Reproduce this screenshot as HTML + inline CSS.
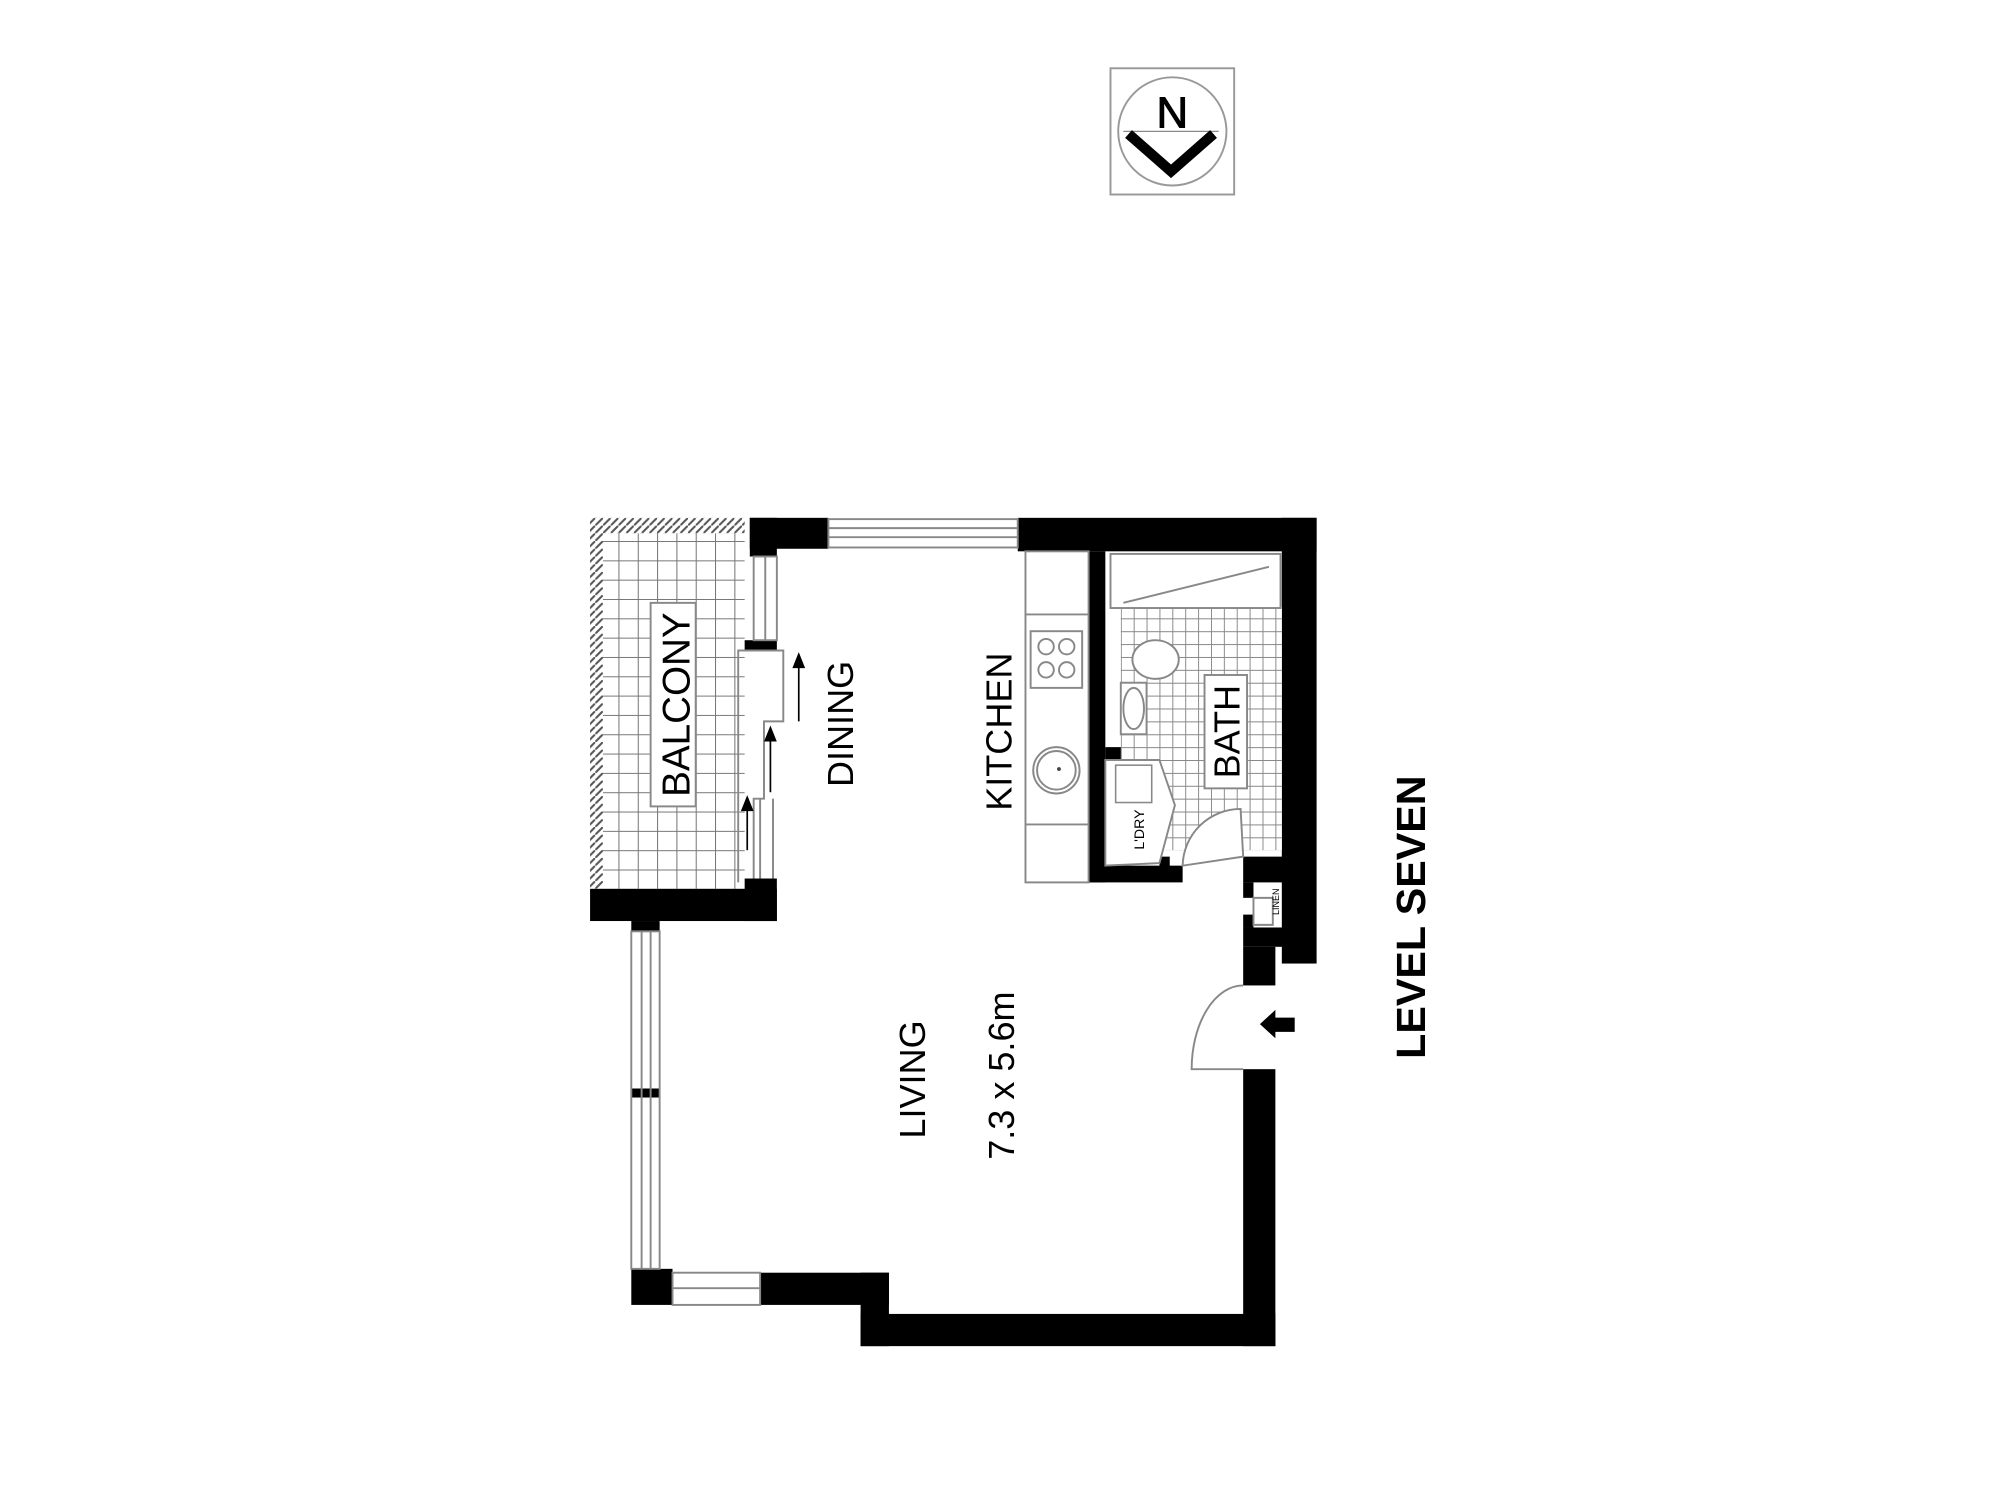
<!DOCTYPE html>
<html><head><meta charset="utf-8"><style>html,body{margin:0;padding:0;background:#fff}svg{display:block}</style></head>
<body>
<svg width="2002" height="1502" viewBox="0 0 1554 1166" xmlns="http://www.w3.org/2000/svg" font-family="Liberation Sans, Arial, sans-serif">
<defs>
<pattern id="tile" x="0" y="0" width="15" height="15" patternUnits="userSpaceOnUse">
<rect width="15" height="15" fill="#fff"/><path d="M0 0H15M0 0V15" stroke="#777" stroke-width="1.6"/></pattern>
<pattern id="tile2" x="0" y="0" width="10" height="10" patternUnits="userSpaceOnUse">
<rect width="10" height="10" fill="#fff"/><path d="M0 0H10M0 0V10" stroke="#888" stroke-width="1.5"/></pattern>
<pattern id="hatch" x="0" y="0" width="6" height="6" patternUnits="userSpaceOnUse">
<rect width="6" height="6" fill="#fff"/><path d="M0 6L6 0" stroke="#555" stroke-width="1.6"/></pattern>
</defs>
<rect width="1554" height="1166" fill="#fff"/>
<!-- North -->
<rect x="862" y="53" width="96" height="98" fill="#fff" stroke="#999" stroke-width="1.5"/>
<circle cx="910" cy="102" r="42" fill="none" stroke="#999" stroke-width="1.5"/>
<text x="910" y="99" font-size="34" text-anchor="middle" stroke="#000" stroke-width="0.8">N</text>
<line x1="872" y1="102" x2="946" y2="102" stroke="#888" stroke-width="1"/>
<polyline points="876,104 909,133 942,104" fill="none" stroke="#000" stroke-width="8"/>
<!-- Balcony -->
<rect x="458" y="402" width="120" height="288" fill="url(#tile)"/>
<rect x="458" y="402" width="120" height="12" fill="url(#hatch)"/>
<rect x="458" y="402" width="10" height="288" fill="url(#hatch)"/>
<rect x="505" y="468" width="35" height="158" fill="#fff" stroke="#888" stroke-width="1.5"/>
<text transform="translate(535,547) rotate(-90)" font-size="30" text-anchor="middle">BALCONY</text>
<!-- Walls -->
<g fill="#000">
<rect x="582" y="402" width="61" height="24"/><rect x="582" y="402" width="21" height="30"/>
<rect x="790" y="402" width="232" height="26"/>
<rect x="995" y="402" width="27" height="346"/>
<rect x="845" y="428" width="13" height="257"/>
<rect x="845" y="672" width="73" height="13"/>
<rect x="858" y="580" width="50" height="10"/><rect x="900" y="580" width="8" height="20"/>
<rect x="900" y="665" width="8" height="10"/>
<rect x="965" y="665" width="35" height="20"/>
<rect x="965" y="685" width="8" height="12"/><rect x="965" y="710" width="8" height="10"/>
<rect x="965" y="720" width="35" height="15"/>
<rect x="965" y="735" width="25" height="30"/>
<rect x="578" y="497" width="25" height="8"/>
<rect x="578" y="682" width="25" height="33"/>
<rect x="458" y="690" width="145" height="25"/>
<rect x="490" y="715" width="22" height="8"/>
<rect x="490" y="845" width="22" height="7"/>
<rect x="490" y="985" width="32" height="28"/>
<rect x="590" y="988" width="100" height="25"/>
<rect x="668" y="988" width="22" height="57"/>
<rect x="668" y="1020" width="322" height="25"/>
<rect x="965" y="830" width="25" height="215"/>
</g>
<g stroke="#888" stroke-width="1.5" fill="none">
<rect x="643" y="403" width="147" height="22"/><line x1="643" y1="410" x2="790" y2="410"/><line x1="643" y1="417" x2="790" y2="417"/>
<rect x="585" y="432" width="18" height="65"/><line x1="594" y1="432" x2="594" y2="497"/>
<rect x="490" y="723" width="22" height="262"/><line x1="498" y1="723" x2="498" y2="985"/><line x1="505" y1="723" x2="505" y2="985"/>
<rect x="522" y="988" width="68" height="25"/><line x1="522" y1="1000" x2="590" y2="1000"/>
<polyline points="603,505 573,505 573,685"/>
<polyline points="578,505 608,505 608,560 593,560 593,620 585,620 585,682"/>
<line x1="600" y1="620" x2="600" y2="682"/>
<line x1="590" y1="620" x2="590" y2="682"/>
</g>
<g stroke="#000" stroke-width="1.3" fill="#000">
<line x1="620" y1="560" x2="620" y2="515"/><polygon points="616,518 624,518 620,508"/>
<line x1="598" y1="615" x2="598" y2="572"/><polygon points="594,575 602,575 598,565"/>
<line x1="580" y1="660" x2="580" y2="626"/><polygon points="576,629 584,629 580,619"/>
</g>
<!-- kitchen -->
<g stroke="#888" stroke-width="1.5" fill="none">
<rect x="796" y="428" width="49" height="257"/>
<line x1="796" y1="477" x2="845" y2="477"/><line x1="796" y1="640" x2="845" y2="640"/>
<rect x="800" y="490" width="40" height="44"/>
<circle cx="812" cy="502" r="6"/><circle cx="828" cy="502" r="6"/><circle cx="812" cy="520" r="6"/><circle cx="828" cy="520" r="6"/>
<circle cx="820" cy="598" r="18"/><circle cx="820" cy="598" r="15"/>
</g>
<circle cx="822" cy="597" r="1.5" fill="#444"/>
<!-- bath -->
<rect x="870" y="470" width="125" height="190" fill="url(#tile2)"/>
<g stroke="#888" stroke-width="1.5" fill="#fff">
<rect x="862" y="430" width="132" height="42"/>
<line x1="872" y1="468" x2="985" y2="440"/>
<ellipse cx="897" cy="512" rx="18" ry="15"/>
<rect x="870" y="530" width="20" height="40"/>
<ellipse cx="880" cy="550" rx="8" ry="16"/>
<rect x="864" y="592" width="32" height="33"/>
<polygon points="858,590 900,590 912,625 900,670 858,672"/>
<rect x="935" y="524" width="33" height="88"/>
<path d="M918 672 A45 45 0 0 1 963 628 L965 665 Z"/>
<polygon points="973,697 988,697 988,718 973,718"/>
</g>
<rect x="866" y="594" width="28" height="29" fill="none" stroke="#888" stroke-width="1.2"/>
<path d="M965 765 A40 65 0 0 0 925 830 L965 830" fill="#fff" stroke="#888" stroke-width="1.5"/>
<text transform="translate(962,568) rotate(-90)" font-size="28" text-anchor="middle">BATH</text>
<text transform="translate(888,644) rotate(-90)" font-size="11" text-anchor="middle">L'DRY</text>
<text transform="translate(993,700) rotate(-90)" font-size="7" text-anchor="middle">LINEN</text>
<polygon points="978,795 990,784 990,790 1005,790 1005,801 990,801 990,806" fill="#000"/>
<text transform="translate(662,562) rotate(-90)" font-size="28" text-anchor="middle">DINING</text>
<text transform="translate(785,568) rotate(-90)" font-size="28" text-anchor="middle">KITCHEN</text>
<text transform="translate(718,838) rotate(-90)" font-size="28" text-anchor="middle">LIVING</text>
<text transform="translate(787,835) rotate(-90)" font-size="28" text-anchor="middle">7.3 x 5.6m</text>
<text transform="translate(1106,712) rotate(-90)" font-size="32" font-weight="bold" text-anchor="middle">LEVEL SEVEN</text>
</svg>
</body></html>
